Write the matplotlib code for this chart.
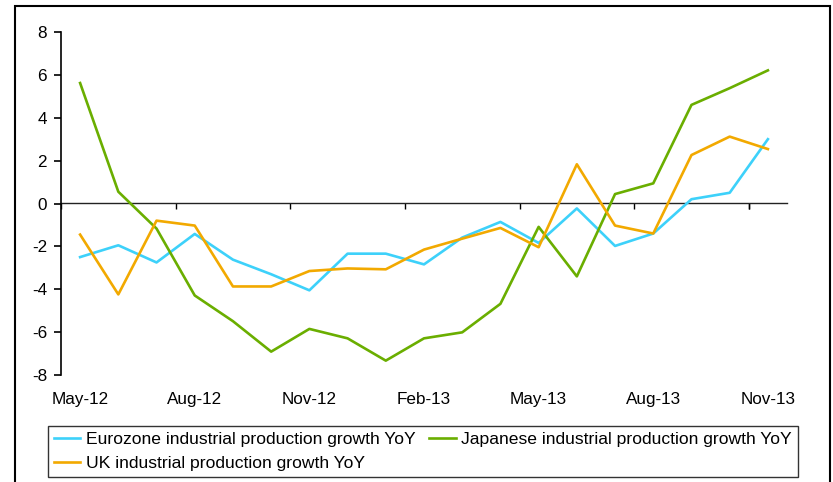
import matplotlib
matplotlib.use("Agg")
import matplotlib.pyplot as plt
from matplotlib.patches import Rectangle

plt.rcParams['font.family'] = ['Liberation Sans', 'DejaVu Sans']
plt.rcParams['axes.unicode_minus'] = False

months = ["May-12", "Jun-12", "Jul-12", "Aug-12", "Sep-12", "Oct-12", "Nov-12",
          "Dec-12", "Jan-13", "Feb-13", "Mar-13", "Apr-13", "May-13", "Jun-13",
          "Jul-13", "Aug-13", "Sep-13", "Oct-13", "Nov-13"]
eurozone = [-2.5, -1.95, -2.75, -1.42, -2.62, -3.3, -4.05, -2.34, -2.34, -2.84,
            -1.59, -0.86, -1.84, -0.23, -1.98, -1.40, 0.20, 0.50, 3.0]
japan = [5.62, 0.55, -1.17, -4.29, -5.49, -6.91, -5.85, -6.29, -7.33, -6.29,
         -6.01, -4.68, -1.09, -3.40, 0.44, 0.94, 4.60, 5.38, 6.21]
uk = [-1.45, -4.24, -0.80, -1.03, -3.87, -3.87, -3.15, -3.03, -3.07, -2.15,
      -1.64, -1.14, -2.04, 1.83, -1.03, -1.40, 2.26, 3.12, 2.54]

labels = ["Eurozone industrial production growth YoY",
          "Japanese industrial production growth YoY",
          "UK industrial production growth YoY"]
colors = ["#3DD1FA", "#6AAE00", "#F2A900"]

W, H = 833, 482
fig = plt.figure(figsize=(W / 100, H / 100), dpi=100)
fig.patches.append(Rectangle((15.5 / W, -0.05), (830 - 15.5) / W, (H - 5.5) / H + 0.05,
                             transform=fig.transFigure, fill=False,
                             edgecolor='black', linewidth=1.5))

ax = fig.add_axes([61 / W, (H - 375) / H, (787 - 61) / W, (375 - 32) / H])
x = list(range(len(months)))
h_eu, = ax.plot(x, eurozone, color=colors[0], lw=1.9, label=labels[0])
h_jp, = ax.plot(x, japan, color=colors[1], lw=1.9, label=labels[1])
h_uk, = ax.plot(x, uk, color=colors[2], lw=1.9, label=labels[2])

ax.set_xlim(-0.5, len(months) - 0.5)
ax.set_ylim(-8, 8)
ax.set_yticks(range(-8, 9, 2))
for s in ['top', 'right', 'bottom']:
    ax.spines[s].set_visible(False)
ax.spines['left'].set_linewidth(1.2)
ax.tick_params(axis='y', direction='out', length=5, width=1.2, pad=5, labelsize=12.3)
ax.set_xticks(x[::3])
ax.set_xticklabels(months[::3])
ax.tick_params(axis='x', length=0, pad=12, labelsize=12.3)

sec = ax.secondary_xaxis(0.5)
sec.set_xticks([v - 0.5 for v in x[::3]] + [len(months) - 0.5 - 1])
sec.set_xticklabels([])
sec.tick_params(axis='x', direction='in', length=4, width=1.0)
sec.spines['top'].set_linewidth(1.0)
sec.spines['top'].set_color('#222222')
sec.spines['bottom'].set_visible(False)

leg = fig.legend([h_eu, h_uk, h_jp], [labels[0], labels[2], labels[1]], ncol=2,
                 loc='upper left', bbox_to_anchor=(48 / W, (H - 425.5) / H),
                 frameon=True, fancybox=False, edgecolor='black', fontsize=12.6,
                 handlelength=1.5, handletextpad=0.3, columnspacing=0.8,
                 borderpad=0.35, labelspacing=0.5, borderaxespad=0)
leg.get_frame().set_linewidth(1.0)

fig.savefig("out.png", dpi=100)
